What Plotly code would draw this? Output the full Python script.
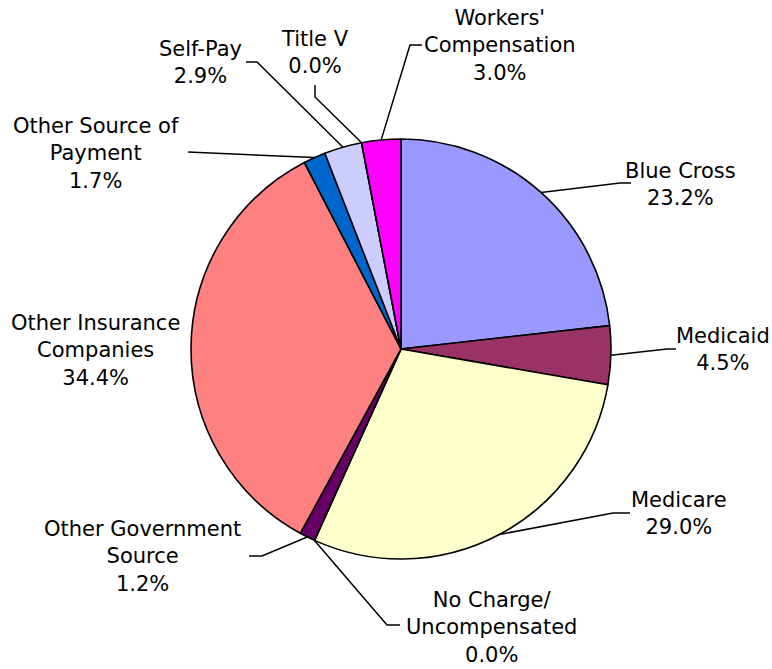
import math
import plotly.graph_objects as go

# ---- data ----
categories = ["Blue Cross", "Medicaid", "Medicare", "No Charge/<br>Uncompensated",
              "Other Government<br>Source", "Other Insurance<br>Companies",
              "Other Source of<br>Payment", "Self-Pay", "Title V", "Workers'<br>Compensation"]
values = [23.2, 4.5, 29.0, 0.0, 1.2, 34.4, 1.7, 2.9, 0.0, 3.0]
colors = ["#9999FF", "#993366", "#FFFFCC", "#FFFFFF", "#660066", "#FF8080",
          "#0066CC", "#CCCCFF", "#FFFFFF", "#FF00FF"]

# ---- layout / style ----
W, H = 772, 669
CX, CY, R = 401, 349, 210
FONT = dict(family="DejaVu Sans, Verdana, sans-serif", size=21, color="black")

# label centres and leader-line elbows/ends (pixel style positions)
label_pos = [(680, 184), (723, 349), (679, 513), (491, 627), (142, 556),
             (95, 350), (96, 153), (200, 62), (315, 52), (500, 45)]
leader = [[(620, 183), (631, 183)],
          [(667, 349), (676, 349)],
          [(613, 513), (630, 513)],
          [(387, 625), (400, 625)],
          [(262, 556), (249, 556)],
          None,
          [(188, 152)],
          [(257, 62), (246, 62)],
          [(315, 97), (315, 85)],
          [(410, 45), (422, 45)]]

fig = go.Figure()
fig.add_trace(go.Pie(
    labels=[c.replace("<br>", " ") for c in categories],
    values=values, sort=False, direction="clockwise", rotation=0,
    marker=dict(colors=colors, line=dict(color="black", width=1.6)),
    textinfo="none", hoverinfo="label+percent", showlegend=False,
    domain=dict(x=[(CX - R) / W, (CX + R) / W], y=[1 - (CY + R) / H, 1 - (CY - R) / H]),
))

total = sum(values)
cum = 0.0
shapes = []
annotations = []
for cat, v, lp, ld in zip(categories, values, label_pos, leader):
    mid = (cum + v / 2) / total * 2 * math.pi
    cum += v
    sx = CX + R * math.sin(mid)
    sy = CY - R * math.cos(mid)
    annotations.append(dict(x=lp[0], y=lp[1], xref="x", yref="y",
                            text=f"{cat}<br>{v:.1f}%", showarrow=False,
                            font=FONT, align="center", xanchor="center", yanchor="middle"))
    if ld:
        pts = [(sx, sy)] + ld
        path = "M " + " L ".join(f"{px:.1f},{py:.1f}" for px, py in pts)
        shapes.append(dict(type="path", path=path, xref="x", yref="y",
                           line=dict(color="black", width=1.5)))

fig.update_layout(
    width=W, height=H, margin=dict(l=0, r=0, t=0, b=0),
    paper_bgcolor="white", plot_bgcolor="rgba(0,0,0,0)",
    xaxis=dict(range=[0, W], visible=False, fixedrange=True),
    yaxis=dict(range=[H, 0], visible=False, fixedrange=True),
    shapes=shapes, annotations=annotations,
)
fig.write_html("out.html", config={"displayModeBar": False},
               post_script="document.body.style.margin='0';document.body.style.overflow='hidden';")
